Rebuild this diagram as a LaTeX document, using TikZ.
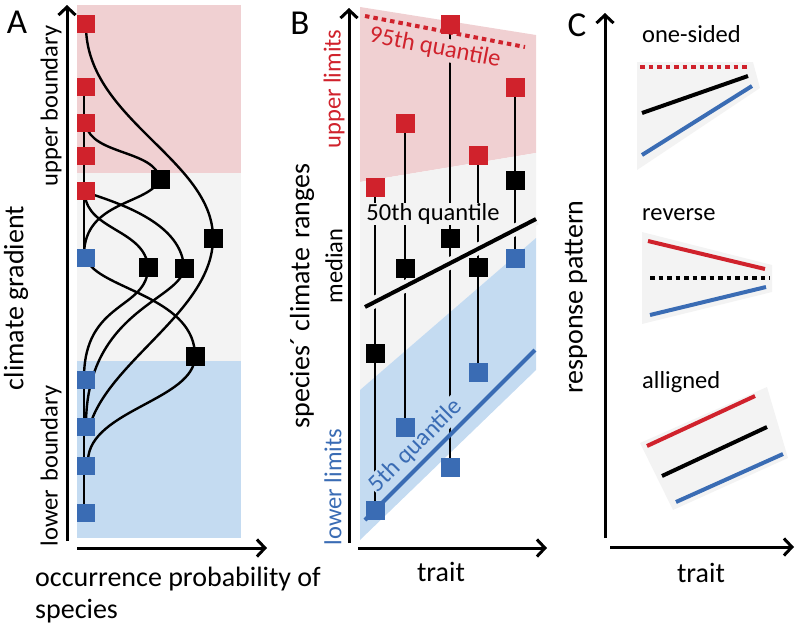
\documentclass[tikz,border=0pt]{standalone}
\usepackage{fontspec}
\setmainfont{Carlito}
\usetikzlibrary{arrows.meta}
\definecolor{myred}{RGB}{208,34,44}
\definecolor{myblue}{RGB}{58,108,180}
\definecolor{pinkbg}{RGB}{240,208,210}
\definecolor{greybg}{RGB}{243,243,243}
\definecolor{bluebg}{RGB}{196,219,241}
\begin{document}
\begin{tikzpicture}[x=1pt,y=-1pt,
  sq/.style={rectangle,minimum size=#1,inner sep=0pt},
  sq/.default=19pt,
  rsq/.style={sq=#1,fill=myred},rsq/.default=19pt,
  bsq/.style={sq=#1,fill=myblue},bsq/.default=19pt,
  ksq/.style={sq=#1,fill=black},ksq/.default=19pt,
  axisline/.style={line width=3pt,-{Straight Barb[length=8pt,width=17pt]}},
  curve/.style={line width=2.4pt},
  stem/.style={line width=1.3pt},
  thick line/.style={line width=4pt},
  lbl/.style={font=\fontsize{24.5}{28}\selectfont,inner sep=1pt},
  title/.style={font=\fontsize{28}{32}\selectfont,inner sep=1pt},
  panel/.style={font=\fontsize{35}{38}\selectfont,inner sep=0pt}]
\useasboundingbox (0,0) rectangle (796,627);

% ================= Panel A =================
\fill[pinkbg] (77,5) rectangle (241,173);
\fill[greybg] (77,173) rectangle (241,361);
\fill[bluebg] (77,361) rectangle (241,538);

\coordinate (Ay0) at (67,541); \coordinate (Ay1) at (67,5);
\coordinate (Ax0) at (77,548); \coordinate (Ax1) at (267,548);
\draw[axisline] (Ay0) -- (Ay1);
\draw[axisline] (Ax0) -- (Ax1);

% curves
\draw[curve] (86,28) .. controls (88,120) and (213,160) .. (213,238)
  .. controls (213,310) and (110,360) .. (90,425);
\draw[curve] (86,125) .. controls (92,155) and (155,150) .. (160,179)
  .. controls (150,205) and (84,200) .. (84,255);
\draw[curve] (85,195) .. controls (88,230) and (145,230) .. (148,267)
  .. controls (148,310) and (84,300) .. (84,378);
\draw[curve] (88,193) .. controls (125,205) and (182,225) .. (184,268)
  .. controls (182,300) and (86,310) .. (86,425);
\draw[curve] (90,265) .. controls (110,290) and (195,300) .. (195,356)
  .. controls (195,400) and (90,410) .. (88,460);
\draw[curve] (84,87) -- (84,258);
\draw[curve] (84,380) -- (84,513);

% squares
\node[rsq=18pt] (ar1) at (86,24) {};
\node[rsq=18pt] (ar2) at (86,87) {};
\node[rsq=18pt] (ar3) at (86,123) {};
\node[rsq=18pt] (ar4) at (86,156) {};
\node[rsq=18pt] (ar5) at (86,191) {};
\node[bsq=18pt] (ab1) at (86,258) {};
\node[bsq=18pt] (ab2) at (86,380) {};
\node[bsq=18pt] (ab3) at (86,427) {};
\node[bsq=18pt] (ab4) at (86,466) {};
\node[bsq=18pt] (ab5) at (86,513) {};
\node[ksq=19pt] (ak1) at (160,179) {};
\node[ksq=19pt] (ak2) at (213,238) {};
\node[ksq=19pt] (ak3) at (148,267) {};
\node[ksq=19pt] (ak4) at (184,268) {};
\node[ksq=19pt] (ak5) at (195,356) {};

\node[panel] (A) at (17,22) {A};
\node[title,rotate=90] (clim) at (16,298) {climate gradient};
\node[lbl,rotate=90] (ub) at (51,106) {upper boundary};
\node[lbl,rotate=90] (lb) at (51,466) {lower\,\,boundary};
\node[title,anchor=base west] (occ1) at (34,586) {occurrence probability of};
\node[title,anchor=base west] (occ2) at (34,618) {species};

% ================= Panel B =================
\fill[pinkbg] (360,7) -- (536,35) -- (536,153) -- (360,182) -- cycle;
\fill[greybg] (360,182) -- (536,153) -- (536,238) -- (360,390) -- cycle;
\fill[bluebg] (360,390) -- (536,238) -- (536,370) -- (360,540) -- cycle;

\coordinate (By0) at (349,543); \coordinate (By1) at (349,8);
\coordinate (Bx0) at (358,548); \coordinate (Bx1) at (547,548);
\draw[axisline] (By0) -- (By1);
\draw[axisline] (Bx0) -- (Bx1);

% species positions
\coordinate (pr1) at (375,187); \coordinate (pk1) at (375,353); \coordinate (pb1) at (375,510);
\coordinate (pr2) at (405,123); \coordinate (pk2) at (405,268); \coordinate (pb2) at (405,427);
\coordinate (pr3) at (450,24);  \coordinate (pk3) at (450,238); \coordinate (pb3) at (450,467);
\coordinate (pr4) at (478,155); \coordinate (pk4) at (478,267); \coordinate (pb4) at (478,372);
\coordinate (pr5) at (515,87);  \coordinate (pk5) at (515,180); \coordinate (pb5) at (515,258);
\foreach \i in {1,...,5}{\draw[stem] (pr\i) -- (pb\i);}

% quantile lines
\coordinate (q95a) at (365,16); \coordinate (q95b) at (525,47);
\draw[myred,thick line,dash pattern=on 4.5pt off 4pt] (q95a) -- (q95b);
\coordinate (q50a) at (365,307); \coordinate (q50b) at (536,219);
\draw[greybg,line width=12pt] (q50a) -- (q50b);
\draw[thick line] (q50a) -- (q50b);
\coordinate (q5a) at (365,520); \coordinate (q5b) at (535,350);
\draw[myblue,thick line] (q5a) -- (q5b);

\node[lbl,text=myred,fill=pinkbg,rotate=-11] (t95) at (435,48) {95th quantile};
\node[lbl,fill=greybg] (t50) at (433,214) {50th quantile};
\node[lbl,text=myblue,fill=bluebg,rotate=45] (t5) at (416,446) {5th quantile};

\foreach \i in {1,...,5}{
  \node[rsq] (br\i) at (pr\i) {};
  \node[ksq] (bk\i) at (pk\i) {};
  \node[bsq] (bb\i) at (pb\i) {};
}

\node[panel] (B) at (300,23) {B};
\node[lbl,rotate=90,text=myred] (ul) at (334,89) {upper limits};
\node[lbl,rotate=90] (med) at (334,266) {median};
\node[lbl,rotate=90,text=myblue] (ll) at (333,487) {lower limits};
\node[title,rotate=90] (scr) at (302,296) {species´ climate\,\,ranges};
\node[title] (traitB) at (441,572) {trait};

% ================= Panel C =================
\coordinate (Cy0) at (605,538); \coordinate (Cy1) at (605,13);
\coordinate (Cx0) at (610,547); \coordinate (Cx1) at (794,547);
\draw[axisline] (Cy0) -- (Cy1);
\draw[axisline] (Cx0) -- (Cx1);

\fill[greybg] (637,62) -- (753,62) -- (760,88) -- (637,170) -- cycle;
\fill[greybg] (642,232) -- (772,265) -- (772,292) -- (642,324) -- cycle;
\fill[greybg] (640,443) -- (767,387) -- (788,458) -- (673,510) -- cycle;

\coordinate (c1ra) at (640,67); \coordinate (c1rb) at (750,67);
\coordinate (c1ka) at (642,113); \coordinate (c1kb) at (748,76);
\coordinate (c1ba) at (642,155); \coordinate (c1bb) at (752,86);
\draw[myred,thick line,dash pattern=on 4.5pt off 4pt] (c1ra) -- (c1rb);
\draw[thick line] (c1ka) -- (c1kb);
\draw[myblue,thick line] (c1ba) -- (c1bb);

\coordinate (c2ra) at (648,241); \coordinate (c2rb) at (765,269);
\coordinate (c2ka) at (650,278); \coordinate (c2kb) at (770,278);
\coordinate (c2ba) at (650,315); \coordinate (c2bb) at (766,287);
\draw[myred,thick line] (c2ra) -- (c2rb);
\draw[thick line,dash pattern=on 4.5pt off 4pt] (c2ka) -- (c2kb);
\draw[myblue,thick line] (c2ba) -- (c2bb);

\coordinate (c3ra) at (647,446); \coordinate (c3rb) at (755,396);
\coordinate (c3ka) at (662,476); \coordinate (c3kb) at (767,427);
\coordinate (c3ba) at (676,502); \coordinate (c3bb) at (783,454);
\draw[myred,thick line] (c3ra) -- (c3rb);
\draw[thick line] (c3ka) -- (c3kb);
\draw[myblue,thick line] (c3ba) -- (c3bb);

\node[panel] (C) at (577,25) {C};
\node[lbl,anchor=base west] (os) at (641,42) {one-sided};
\node[lbl,anchor=base west] (rev) at (641,220) {reverse};
\node[lbl,anchor=base west] (all) at (641,388) {alligned};
\node[title,rotate=90] (rp) at (576,297) {response pattern};
\node[title] (traitC) at (701,573) {trait};
\end{tikzpicture}
\end{document}
